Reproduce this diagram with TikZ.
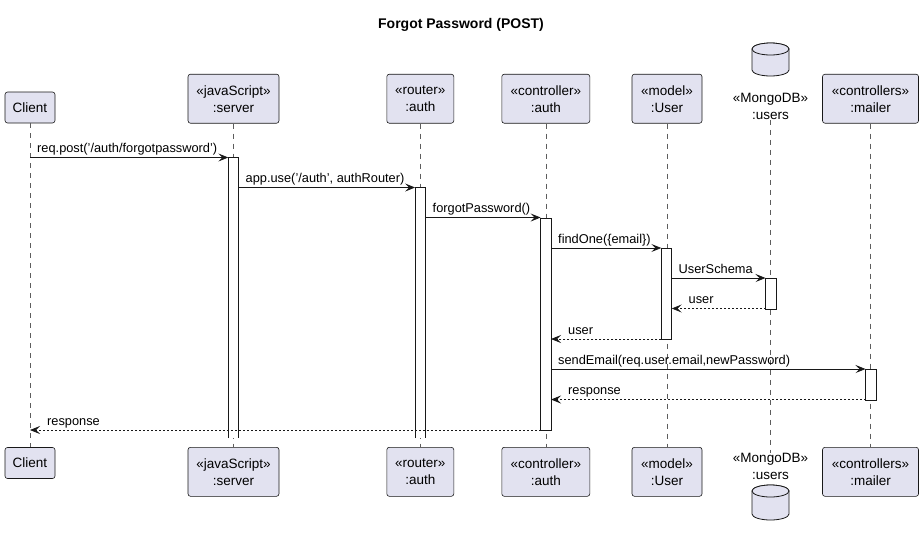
\documentclass[tikz,border=0pt]{standalone}
\usepackage{fontspec}
\setmainfont{Liberation Sans}
\usetikzlibrary{arrows.meta}
\definecolor{pfill}{HTML}{E2E2F0}
\definecolor{pline}{HTML}{181818}
\begin{document}
\begin{tikzpicture}[x=1pt,y=-1pt,
  part/.style={draw=pline,fill=pfill,rounded corners=2.5pt,line width=0.6pt,align=center,font=\fontsize{13.5}{17}\selectfont,inner sep=0pt,minimum height=31pt},
  part2/.style={part,minimum height=49pt},
  dbtext/.style={align=center,font=\fontsize{13.5}{17}\selectfont,inner sep=0pt},
  life/.style={draw=pline!70,line width=0.5pt,dash pattern=on 5pt off 5pt},
  act/.style={draw=pline,fill=white,line width=0.8pt},
  msg/.style={draw=pline,line width=0.8pt,-{Stealth[length=10pt,width=8pt,inset=4pt]}},
  ret/.style={msg,dash pattern=on 2pt off 2pt},
  lbl/.style={font=\fontsize{12.8}{15}\selectfont,inner sep=0pt,anchor=base west},
  cyl/.style={draw=pline,fill=pfill,line width=0.8pt}
]
\useasboundingbox (0,0) rectangle (923,544);
\node[font=\bfseries\fontsize{14}{16}\selectfont] (title) at (461,25) {Forgot Password (POST)};

% top participants
\node[part,minimum width=50pt] (clientT) at (30,107.5) {Client};
\node[part2,minimum width=91pt] (serverT) at (233.5,98.7) {«javaScript»\\:server};
\node[part2,minimum width=67pt] (routerT) at (420.3,98.7) {«router»\\:auth};
\node[part2,minimum width=88pt] (ctrlT) at (545.8,98.7) {«controller»\\:auth};
\node[part2,minimum width=70pt] (userT) at (667,98.7) {«model»\\:User};
\node[dbtext] (dbT) at (770.5,106.5) {«MongoDB»\\:users};
\node[part2,minimum width=96pt] (mailT) at (870.5,98.7) {«controllers»\\:mailer};

% bottom participants
\node[part,minimum width=50pt] (clientB) at (30,463) {Client};
\node[part2,minimum width=91pt] (serverB) at (233.5,471.8) {«javaScript»\\:server};
\node[part2,minimum width=67pt] (routerB) at (420.3,471.8) {«router»\\:auth};
\node[part2,minimum width=88pt] (ctrlB) at (545.8,471.8) {«controller»\\:auth};
\node[part2,minimum width=70pt] (userB) at (667,471.8) {«model»\\:User};
\node[dbtext] (dbB) at (770.5,466.5) {«MongoDB»\\:users};
\node[part2,minimum width=96pt] (mailB) at (870.5,471.8) {«controllers»\\:mailer};

% cylinders
\path[cyl] (752,49) -- (752,70) arc[start angle=180,end angle=360,x radius=18.5pt,y radius=6pt] -- (789,49) arc[start angle=0,end angle=180,x radius=18.5pt,y radius=6pt] -- cycle;
\draw[cyl] (770.5,49) ellipse[x radius=18.5pt,y radius=6pt];
\path[cyl] (752,491) -- (752,514) arc[start angle=180,end angle=360,x radius=18.5pt,y radius=6pt] -- (789,491) arc[start angle=0,end angle=180,x radius=18.5pt,y radius=6pt] -- cycle;
\draw[cyl] (770.5,491) ellipse[x radius=18.5pt,y radius=6pt];

% lifelines
\draw[life] (clientT.south) -- (clientB.north);
\draw[life] (serverT.south) -- (serverB.north);
\draw[life] (routerT.south) -- (routerB.north);
\draw[life] (ctrlT.south) -- (ctrlB.north);
\draw[life] (userT.south) -- (userB.north);
\draw[life] (dbT.south) -- (dbB.north);
\draw[life] (mailT.south) -- (mailB.north);

% activations
\fill[white] (228.3,157.5) rectangle (238.7,438);
\draw[pline,line width=0.8pt] (228.3,438) -- (228.3,157.5) -- (238.7,157.5) -- (238.7,438);
\fill[white] (415.1,187.5) rectangle (425.5,438);
\draw[pline,line width=0.8pt] (415.1,438) -- (415.1,187.5) -- (425.5,187.5) -- (425.5,438);
\node[act,anchor=north,minimum width=10.4pt,minimum height=212.5pt,inner sep=0pt] (ctrlA) at (545.8,217.5) {};
\node[act,anchor=north,minimum width=10.4pt,minimum height=91pt,inner sep=0pt] (userA) at (666.5,248) {};
\node[act,anchor=north,minimum width=10.4pt,minimum height=30.5pt,inner sep=0pt] (dbA) at (770.7,278) {};
\node[act,anchor=north,minimum width=10.4pt,minimum height=30.5pt,inner sep=0pt] (mailA) at (870.7,369) {};

% message endpoints
\coordinate (m1a) at (30,157.5);   \coordinate (m1b) at (228.3,157.5);
\coordinate (m2a) at (238.7,187.5); \coordinate (m2b) at (415.1,187.5);
\coordinate (m3a) at (425.5,217.5); \coordinate (m3b) at (540.6,217.5);
\coordinate (m4a) at (551,248);    \coordinate (m4b) at (661.3,248);
\coordinate (m5a) at (671.7,278);  \coordinate (m5b) at (765.5,278);
\coordinate (m6a) at (765.5,308.5); \coordinate (m6b) at (671.7,308.5);
\coordinate (m7a) at (661.3,339);  \coordinate (m7b) at (551,339);
\coordinate (m8a) at (551,369);    \coordinate (m8b) at (865.5,369);
\coordinate (m9a) at (865.5,399.5); \coordinate (m9b) at (551,399.5);
\coordinate (m10a) at (540.6,430); \coordinate (m10b) at (30,430);

\draw[msg] (m1a) -- (m1b);
\draw[msg] (m2a) -- (m2b);
\draw[msg] (m3a) -- (m3b);
\draw[msg] (m4a) -- (m4b);
\draw[msg] (m5a) -- (m5b);
\draw[ret] (m6a) -- (m6b);
\draw[ret] (m7a) -- (m7b);
\draw[msg] (m8a) -- (m8b);
\draw[ret] (m9a) -- (m9b);
\draw[ret] (m10a) -- (m10b);

% labels
\node[lbl] (l1) at (37,152.5) {req.post('/auth/forgotpassword')};
\node[lbl] (l2) at (245.5,182.5) {app.use('/auth', authRouter)};
\node[lbl] (l3) at (432.5,212.5) {forgotPassword()};
\node[lbl] (l4) at (558,243) {findOne(\{email\})};
\node[lbl] (l5) at (678.5,273) {UserSchema};
\node[lbl] (l6) at (688.5,303.5) {user};
\node[lbl] (l7) at (568,334) {user};
\node[lbl] (l8) at (558,364) {sendEmail(req.user.email,newPassword)};
\node[lbl] (l9) at (568,394.5) {response};
\node[lbl] (l10) at (47,425) {response};
\end{tikzpicture}
\end{document}
